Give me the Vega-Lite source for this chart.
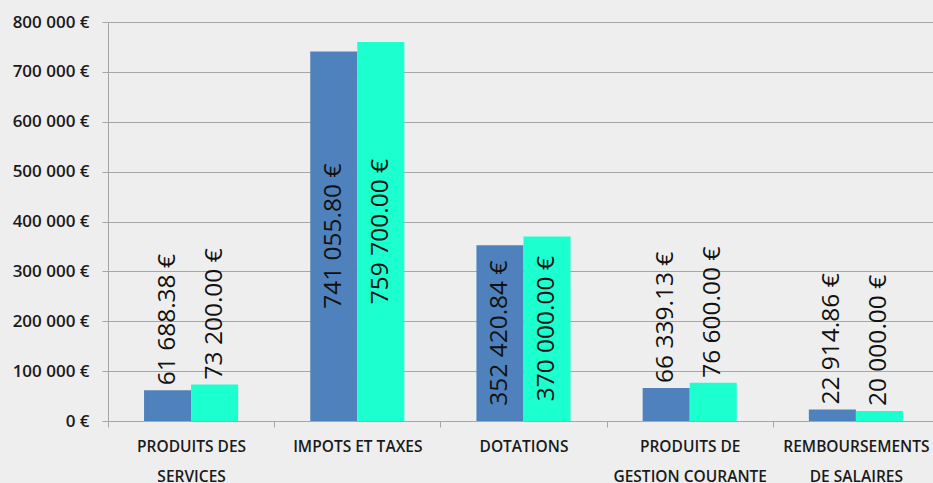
{
  "$schema": "https://vega.github.io/schema/vega-lite/v6.json",
  "width": 825,
  "height": 399,
  "autosize": "none",
  "padding": {"left": 108, "top": 22, "right": 0, "bottom": 62},
  "background": "#EEEEEE",
  "config": {
    "locale": {"number": {"decimal": ".", "thousands": " ", "grouping": [3], "currency": ["", " €"]}},
    "view": {"stroke": null},
    "font": "Open Sans"
  },
  "data": {
    "values": [
      {"category": "PRODUITS DES SERVICES", "series": "A", "value": 61688.38},
      {"category": "PRODUITS DES SERVICES", "series": "B", "value": 73200.00},
      {"category": "IMPOTS ET TAXES", "series": "A", "value": 741055.80},
      {"category": "IMPOTS ET TAXES", "series": "B", "value": 759700.00},
      {"category": "DOTATIONS", "series": "A", "value": 352420.84},
      {"category": "DOTATIONS", "series": "B", "value": 370000.00},
      {"category": "PRODUITS DE GESTION COURANTE", "series": "A", "value": 66339.13},
      {"category": "PRODUITS DE GESTION COURANTE", "series": "B", "value": 76600.00},
      {"category": "REMBOURSEMENTS DE SALAIRES", "series": "A", "value": 22914.86},
      {"category": "REMBOURSEMENTS DE SALAIRES", "series": "B", "value": 20000.00}
    ]
  },
  "encoding": {
    "x": {
      "field": "category", "type": "nominal", "sort": null,
      "scale": {"range": [0, 831], "paddingInner": 0, "paddingOuter": 0},
      "axis": {
        "title": null, "labelAngle": 0, "tickBand": "extent",
        "labelFontSize": 15.5, "labelFontWeight": 600, "labelColor": "#1a1a1a",
        "labelBaseline": "top", "labelPadding": 12, "labelLineHeight": 30,
        "tickSize": 6, "tickColor": "#a6a6a6", "domainColor": "#a6a6a6",
        "labelExpr": "datum.label == 'PRODUITS DES SERVICES' ? ['PRODUITS DES', 'SERVICES'] : datum.label == 'PRODUITS DE GESTION COURANTE' ? ['PRODUITS DE', 'GESTION COURANTE'] : datum.label == 'REMBOURSEMENTS DE SALAIRES' ? ['REMBOURSEMENTS', 'DE SALAIRES'] : datum.label"
      }
    },
    "xOffset": {"field": "series", "type": "nominal", "sort": null, "scale": {"paddingInner": 0, "paddingOuter": 0.766}}
  },
  "layer": [
    {
      "mark": {"type": "bar"},
      "encoding": {
        "y": {
          "field": "value", "type": "quantitative",
          "scale": {"domain": [0, 800000], "nice": false},
          "axis": {
            "title": null, "tickCount": 8, "format": "$,.0f",
            "labelFontSize": 17, "labelFontWeight": 600, "labelColor": "#1a1a1a",
            "tickSize": 6, "labelPadding": 13,
            "tickColor": "#a6a6a6", "domainColor": "#a6a6a6", "gridColor": "#a6a6a6", "grid": true
          }
        },
        "color": {"field": "series", "type": "nominal", "scale": {"domain": ["A", "B"], "range": ["#4F81BD", "#1CFFCE"]}, "legend": null}
      }
    },
    {
      "transform": [{"filter": "datum.value > 300000"}],
      "mark": {"type": "text", "angle": 270, "align": "center", "baseline": "middle", "fontSize": 24.5, "color": "#111111"},
      "encoding": {
        "y": {"field": "value", "type": "quantitative", "scale": {"domain": [0, 1600000], "nice": false}, "axis": null},
        "text": {"field": "value", "type": "quantitative", "format": "$,.2f"}
      }
    },
    {
      "transform": [{"filter": "datum.value <= 300000"}],
      "mark": {"type": "text", "angle": 270, "align": "left", "baseline": "middle", "dx": 5, "fontSize": 24.5, "color": "#111111"},
      "encoding": {
        "y": {"field": "value", "type": "quantitative", "scale": {"domain": [0, 800000], "nice": false}, "axis": null},
        "text": {"field": "value", "type": "quantitative", "format": "$,.2f"}
      }
    }
  ],
  "resolve": {"scale": {"y": "independent"}}
}
